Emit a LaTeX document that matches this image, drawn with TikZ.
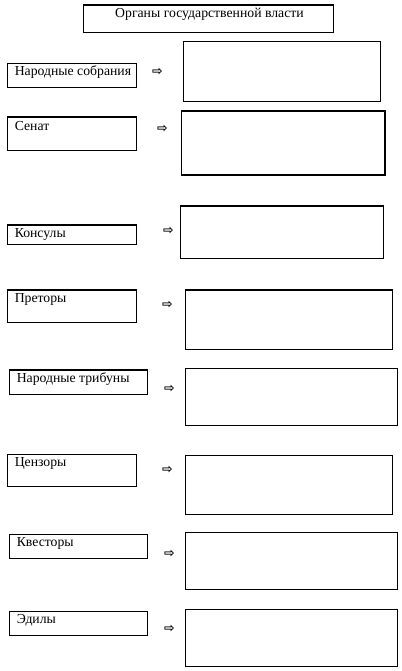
\documentclass[tikz,border=0pt]{standalone}
\usepackage{fontspec}
\setmainfont{Liberation Serif}
\newfontfamily\arrowfont{DejaVu Sans Bold}
\tikzset{
  frame/.style={draw, line width=0.8pt},
  lbl/.style={anchor=base west, inner sep=0pt, font=\fontsize{10.3}{12}\selectfont},
  pointer/.style={inner sep=0pt, font=\arrowfont\fontsize{9.5}{10}\selectfont}
}
\begin{document}
\begin{tikzpicture}[x=0.75pt, y=-0.75pt]
\useasboundingbox (0,0) rectangle (402,671);

\draw[frame] (83.3,5) rectangle (333.7,32.3);
\node[lbl, anchor=base] (title) at (209.5,17.5) {Органы государственной власти};

\draw[frame] (7.3,63.3) rectangle (136.7,87.3);
\node[lbl] (nar) at (14.5,75.5) {Народные собрания};
\node[pointer] (nar-p) at (157.5,72) {⇨};
\draw[frame] (183.3,41.3) rectangle (380.7,101.3);

\draw[frame] (7.3,117) rectangle (136.7,150.3);
\node[lbl] (sen) at (14.5,130) {Сенат};
\node[pointer] (sen-p) at (162.5,129) {⇨};
\draw[frame] (181.3,111) rectangle (385,175);

\draw[frame] (7.3,225) rectangle (136.7,244.3);
\node[lbl] (kon) at (14.5,237.5) {Консулы};
\node[pointer] (kon-p) at (168.5,231) {⇨};
\draw[frame] (180.3,206) rectangle (383.7,258.7);

\draw[frame] (7.3,290) rectangle (136.7,322.3);
\node[lbl] (pre) at (14.5,302.5) {Преторы};
\node[pointer] (pre-p) at (167.5,305) {⇨};
\draw[frame] (185.3,290) rectangle (392.7,349.3);

\draw[frame] (9.3,370) rectangle (147.7,394.3);
\node[lbl] (tri) at (16.5,382) {Народные трибуны};
\node[pointer] (tri-p) at (169.5,388.5) {⇨};
\draw[frame] (185.3,368.3) rectangle (397.7,425.7);

\draw[frame] (7.3,454.3) rectangle (136.7,486.3);
\node[lbl] (cen) at (14.5,466.5) {Цензоры};
\node[pointer] (cen-p) at (167.5,470) {⇨};
\draw[frame] (185.3,455.3) rectangle (392.7,514.3);

\draw[frame] (9.3,534.3) rectangle (147.7,558.3);
\node[lbl] (kve) at (16.5,546.5) {Квесторы};
\node[pointer] (kve-p) at (169.5,553.5) {⇨};
\draw[frame] (185.3,532.3) rectangle (397.7,589.3);

\draw[frame] (9.3,611.3) rectangle (147.7,635.3);
\node[lbl] (edi) at (16.5,623.5) {Эдилы};
\node[pointer] (edi-p) at (169.5,628.5) {⇨};
\draw[frame] (185.3,609.3) rectangle (397.7,666.7);
\end{tikzpicture}
\end{document}
